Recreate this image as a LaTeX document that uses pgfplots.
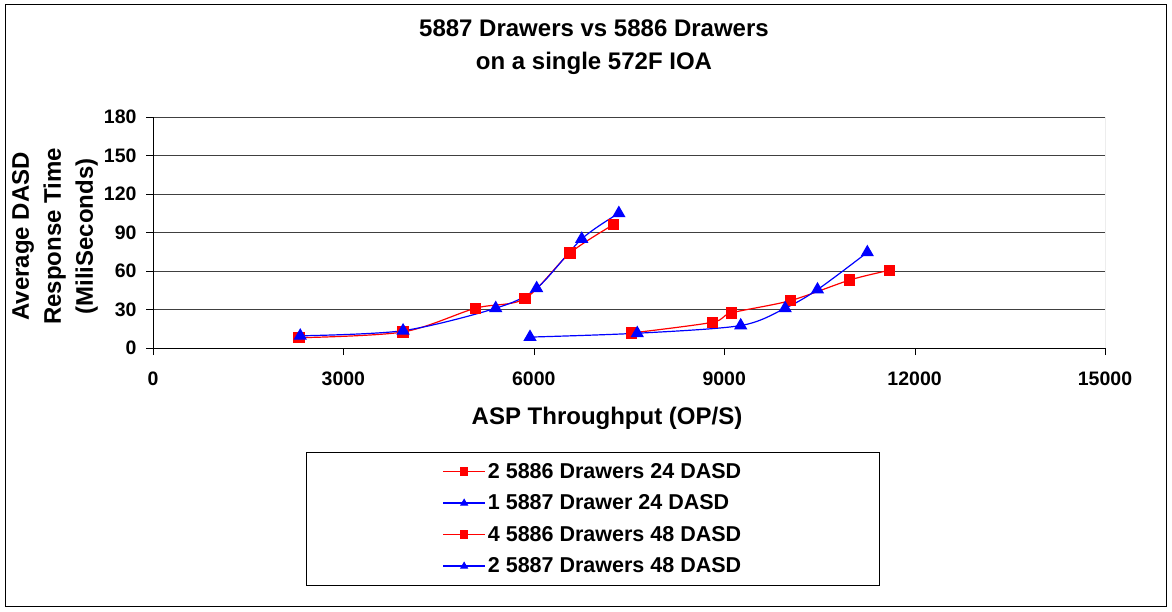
\documentclass[border=0pt]{standalone}
\usepackage{pgfplots}
\pgfplotsset{compat=1.18}
\usepackage{fontspec}
\setmainfont{Liberation Sans}

% 2 5886 drawers, 24 DASD
\pgfplotstableread{
x y
2300 8
3940 12.5
5080 31
5860 38.5
6570 74
7250 96
}\redA
\pgfplotstableread{
x y
2320 9.5
3940 13.5
5400 31
6045 46.5
6755 85
7340 105
}\blueA
\pgfplotstableread{
x y
7540 11.7
8810 20
9110 27.3
10050 37
10980 53
11600 60.5
}\redB
\pgfplotstableread{
x y
5940 8.5
7630 11.5
9260 17.5
9960 31
10470 45.5
11255 74.5
}\blueB

\begin{document}
\begin{tikzpicture}[x=1pt,y=1pt]
\useasboundingbox (0,0) rectangle (1172,611);
\draw[black,line width=1pt] (5,5) rectangle (1166,606);

\node[font=\bfseries\fontsize{24}{33}\selectfont, align=center] at (594,564) {5887 Drawers vs 5886 Drawers\\on a single 572F IOA};

\begin{axis}[
  at={(153pt,263pt)}, anchor=south west,
  scale only axis, width=952pt, height=231pt,
  xmin=0, xmax=15000, ymin=0, ymax=180,
  xtick={0,3000,...,15000}, ytick={0,30,...,180},
  scaled ticks=false,
  /pgf/number format/1000 sep={},
  /pgf/number format/assume math mode=true,
  tick label style={font=\bfseries\fontsize{19.5}{22}\selectfont},
  xticklabel style={yshift=-13pt},
  yticklabel style={xshift=-6pt},
  tick align=outside, tick style={black}, major tick length=7pt,
  xtick pos=bottom, ytick pos=left,
  ymajorgrids, grid style={black!75, line width=0.8pt},
  axis line style={black, line width=0.8pt},
  axis x line*=bottom, axis y line*=left,
  xlabel={ASP Throughput (OP/S)},
  ylabel={Average DASD\\Response Time\\(MiliSeconds)},
  every axis x label/.style={at={(rel axis cs:0.5,0)}, anchor=center, yshift=-70pt, xshift=-22pt, font=\bfseries\fontsize{24}{28}\selectfont},
  every axis y label/.style={at={(rel axis cs:0,0.5)}, anchor=center, rotate=90, yshift=98pt, xshift=-4pt, align=center, font=\bfseries\fontsize{24}{32}\selectfont},
  legend style={at={(0.462,-0.740)}, anchor=center,
    inner xsep=136pt, inner ysep=9pt, row sep=11pt,
    font=\bfseries\fontsize{21.5}{24}\selectfont},
  legend cell align=left,
  legend image code/.code={
    \draw[#1,line width=1.5pt,mark=none] (0pt,0pt) -- (42pt,0pt);
    \draw[#1,line width=1pt,mark size=3.8pt] plot coordinates {(21pt,0pt)};},
]
\addplot[red, line width=1.2pt, smooth, mark=square*, mark size=5pt] table {\redA};
\addlegendentry{2 5886 Drawers 24 DASD}
\addplot[blue, line width=1.2pt, smooth, mark=triangle*, mark size=6.5pt] table {\blueA};
\addlegendentry{1 5887 Drawer 24 DASD}
\addplot[red, line width=1.2pt, smooth, mark=square*, mark size=5pt] table {\redB};
\addlegendentry{4 5886 Drawers 48 DASD}
\addplot[blue, line width=1.2pt, smooth, mark=triangle*, mark size=6.5pt] table {\blueB};
\addlegendentry{2 5887 Drawers 48 DASD}
\draw[black!55, line width=0.8pt] (rel axis cs:1,0) -- (rel axis cs:1,1);
\end{axis}
\end{tikzpicture}
\end{document}
